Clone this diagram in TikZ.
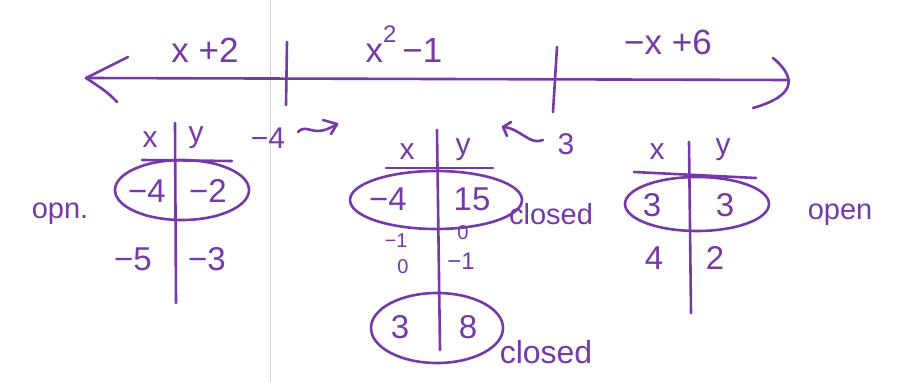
\documentclass[tikz,border=0pt]{standalone}
\usepackage{fontspec}
\setmainfont{Liberation Sans}
\definecolor{ink}{RGB}{118,58,168}
\begin{document}
\begin{tikzpicture}[x=1pt,y=-1pt,
  pen/.style={draw=ink,line width=2.6pt,line cap=round,line join=round},
  lbl/.style={text=ink,font=\fontsize{35}{37}\selectfont,inner sep=0pt},
  hdr/.style={text=ink,font=\fontsize{30}{32}\selectfont,inner sep=0pt},
  cell/.style={text=ink,font=\fontsize{33}{35}\selectfont,inner sep=0pt},
  small/.style={text=ink,font=\fontsize{20}{22}\selectfont,inner sep=0pt},
  note/.style={text=ink,font=\fontsize{29}{31}\selectfont,inner sep=0pt}]
\useasboundingbox (0,0) rectangle (899,382);
% paper fold
\draw[black!18,line width=0.8pt] (270,0) -- (270,382);
% number line
\coordinate (L) at (86,78);
\coordinate (R) at (789,80);
\draw[pen] (L) -- (R);
\draw[pen] (128,57) -- (L) .. controls (98,86) and (108,92) .. (117,102);
\draw[pen] (773,58) .. controls (792,74) and (802,94) .. (753,108);
\coordinate (t1a) at (287,42); \coordinate (t1b) at (286,105);
\coordinate (t2a) at (557,47); \coordinate (t2b) at (553,112);
\draw[pen] (t1a) -- (t1b);
\draw[pen] (t2a) -- (t2b);
\node[lbl] (f1) at (205,50) {x +2};
\node[lbl] (f2) at (404,44) {x\raisebox{0.55em}{\fontsize{24}{26}\selectfont 2}\,−1};
\node[lbl] (f3) at (668,42) {−x +6};
% left table
\draw[pen] (175,123) -- (176,303);
\draw[pen] (142,160) -- (232,161);
\node[hdr] (lx) at (150,140) {x};
\node[hdr] (ly) at (196,138) {y};
\draw[pen] (182,190) ellipse [x radius=67,y radius=30];
\node[cell] (l1x) at (147,191) {−4};
\node[cell] (l1y) at (208,191) {−2};
\node[cell] (l2x) at (133,259) {−5};
\node[cell] (l2y) at (207,259) {−3};
\node[note] (opn) at (60,214) {opn.};
\node[lbl,font=\fontsize{30}{32}\selectfont] (m4) at (268,138) {−4};
\draw[pen] (298,132) .. controls (308,122) and (312,140) .. (337,124);
\draw[pen] (323,120) -- (337,124) -- (331,134);
% middle table
\draw[pen] (437,130) -- (440,350);
\draw[pen] (386,168) -- (493,168);
\node[hdr] (mx) at (407,152) {x};
\node[hdr] (my) at (463,150) {y};
\draw[pen] (436,200) ellipse [x radius=86,y radius=29];
\node[cell] (m1x) at (388,199) {−4};
\node[cell] (m1y) at (472,199) {15};
\node[note] (c1) at (551,214) {closed};
\node[small] (m2x) at (396,241) {−1};
\node[small] (m3x) at (403,267) {0};
\node[small] (m2y) at (463,233) {0};
\node[cell,font=\fontsize{24}{26}\selectfont] (m3y) at (461,261) {−1};
\draw[pen] (437,328) ellipse [x radius=66,y radius=35];
\node[cell] (m4x) at (400,327) {3};
\node[cell] (m4y) at (468,327) {8};
\node[lbl,font=\fontsize{32}{34}\selectfont] (c2) at (546,352) {closed};
\draw[pen] (543,140) .. controls (530,146) and (520,128) .. (503,127);
\draw[pen] (511,122) -- (503,127) -- (507,136);
\node[lbl,font=\fontsize{30}{32}\selectfont] (n3) at (566,144) {3};
% right table
\draw[pen] (689,142) -- (691,313);
\draw[pen] (634,172) -- (756,178);
\node[hdr] (rx) at (657,152) {x};
\node[hdr] (ry) at (723,150) {y};
\draw[pen] (697,204) ellipse [x radius=72,y radius=27];
\node[cell] (r1x) at (652,205) {3};
\node[cell] (r1y) at (725,205) {3};
\node[cell] (r2x) at (654,258) {4};
\node[cell] (r2y) at (715,258) {2};
\node[note] (op) at (840,215) {open};
\end{tikzpicture}
\end{document}
